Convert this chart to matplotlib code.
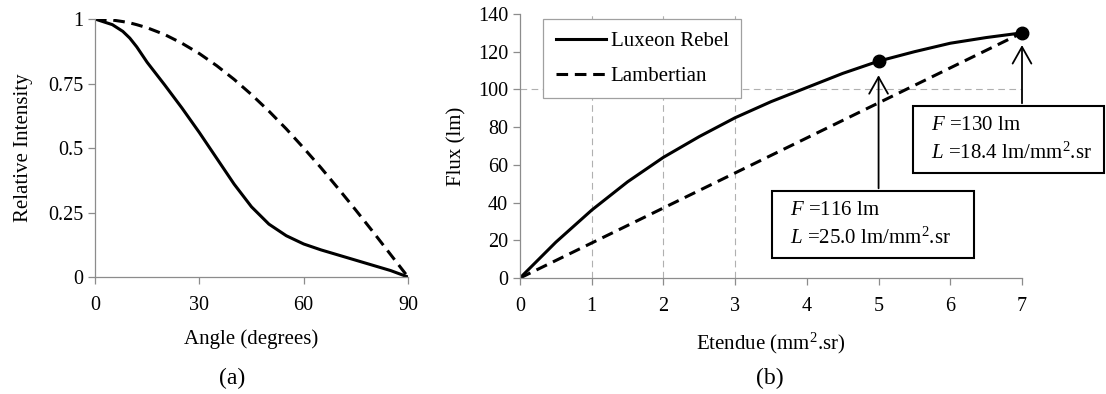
import matplotlib.pyplot as plt
from matplotlib.patches import Rectangle

plt.rcParams['font.family'] = 'Liberation Serif'
plt.rcParams['mathtext.fontset'] = 'custom'
plt.rcParams['mathtext.rm'] = 'Liberation Serif'
plt.rcParams['mathtext.it'] = 'Liberation Serif:italic'
plt.rcParams['font.size'] = 15

# (a) relative intensity vs angle
angle = [0, 5, 8, 10, 12, 15, 20, 25, 30, 35, 40, 45, 50, 55, 60, 65, 70, 75, 80, 85, 90]
rebel_int = [1.0, 0.978, 0.952, 0.926, 0.892, 0.832, 0.745, 0.655, 0.56, 0.46, 0.36,
             0.272, 0.205, 0.16, 0.128, 0.105, 0.085, 0.065, 0.045, 0.025, 0.0]
lamb_int = [1.0, 0.996, 0.99, 0.985, 0.978, 0.966, 0.94, 0.906, 0.866, 0.819, 0.766,
            0.707, 0.643, 0.574, 0.5, 0.423, 0.342, 0.259, 0.174, 0.087, 0.0]

# (b) flux vs etendue
etendue = [0, 0.5, 1, 1.5, 2, 2.5, 3, 3.5, 4, 4.5, 5, 5.5, 6, 6.5, 7]
rebel_flux = [0, 19, 36, 51, 64, 75, 85, 93.5, 101, 108.5, 115, 120, 124.5, 127.5, 130]
lamb_etendue = [0, 7]
lamb_flux = [0, 130]
points_x = [5, 7]
points_y = [115, 130]
labels = ["$F$ =116 lm\n$L$ =25.0 lm/mm$^2$.sr", "$F$ =130 lm\n$L$ =18.4 lm/mm$^2$.sr"]

gray = '#8c8c8c'
dash = (0, (3.8, 2.2))

fig = plt.figure(figsize=(11.06, 3.94), dpi=100)


def style(ax):
    for s in ['top', 'right']:
        ax.spines[s].set_visible(False)
    for s in ['left', 'bottom']:
        ax.spines[s].set_color(gray)
        ax.spines[s].set_linewidth(0.9)
    ax.tick_params(colors=gray, labelcolor='black', length=5, width=0.9, labelsize=14.5)
    ax.tick_params(axis='x', pad=9)


ax1 = fig.add_axes([95 / 1106, 117 / 394, 313 / 1106, 258 / 394])
ax1.plot(angle, rebel_int, color='black', lw=2.2)
ax1.plot(angle, lamb_int, color='black', lw=2.2, linestyle=dash)
ax1.set_xlim(0, 90)
ax1.set_ylim(0, 1)
ax1.set_xticks([0, 30, 60, 90])
ax1.set_yticks([0, 0.25, 0.5, 0.75, 1])
ax1.set_yticklabels(['0', '0.25', '0.5', '0.75', '1'])
style(ax1)
ax1.set_xlabel('Angle (degrees)', labelpad=10)
ax1.set_ylabel('Relative Intensity', labelpad=11)

ax2 = fig.add_axes([520 / 1106, 116 / 394, 502 / 1106, 264 / 394])
for gx in [1, 2, 3]:
    ax2.axvline(gx, color='#b0b0b0', lw=0.8, linestyle=(0, (6, 4)), zorder=0)
ax2.axhline(100, color='#b0b0b0', lw=0.8, linestyle=(0, (6, 4)), zorder=0)
ax2.plot(etendue, rebel_flux, color='black', lw=2.2, label='Luxeon Rebel')
ax2.plot(lamb_etendue, lamb_flux, color='black', lw=2.2, linestyle=dash, label='Lambertian')
ax2.plot(points_x, points_y, 'o', color='black', ms=9, clip_on=False, zorder=5)
ax2.set_xlim(0, 7)
ax2.set_ylim(0, 140)
ax2.set_xticks(range(8))
ax2.set_yticks(range(0, 141, 20))
style(ax2)
ax2.set_xlabel('Etendue (mm$^2$.sr)', labelpad=10)
ax2.set_ylabel('Flux (lm)', labelpad=8)

leg = ax2.legend(loc='upper left', bbox_to_anchor=(0.046, 0.98), borderaxespad=0,
                 fancybox=False, edgecolor='#a0a0a0', framealpha=1, handlelength=2.4,
                 labelspacing=0.72, borderpad=0.6, handletextpad=0.25, fontsize=15)
leg.get_frame().set_linewidth(0.9)

# annotation boxes (data coords)
boxes = [(3.514, 10.6, 2.817, 35.5), (5.48, 55.7, 2.66, 35.5)]
text_pos = [(3.765, 28.0), (5.73, 73.1)]
arrow_tail = [46.1, 91.2]
arrow_tip = [109, 125]
for i in range(2):
    x0, y0, w, h = boxes[i]
    ax2.add_patch(Rectangle((x0, y0), w, h, facecolor='white', edgecolor='black',
                            lw=1.5, clip_on=False, zorder=4))
    ax2.text(text_pos[i][0], text_pos[i][1], labels[i], fontsize=15, va='center',
             linespacing=1.45, zorder=6)
    ax2.annotate('', xy=(points_x[i], arrow_tip[i]), xytext=(points_x[i], arrow_tail[i]),
                 arrowprops=dict(arrowstyle='->,head_length=0.8,head_width=0.45',
                                 color='black', lw=1.3), zorder=6)

fig.text(232 / 1106, 1 - 378 / 394, '(a)', ha='center', va='center', fontsize=17)
fig.text(770 / 1106, 1 - 378 / 394, '(b)', ha='center', va='center', fontsize=17)

fig.savefig('out.png', dpi=100)
